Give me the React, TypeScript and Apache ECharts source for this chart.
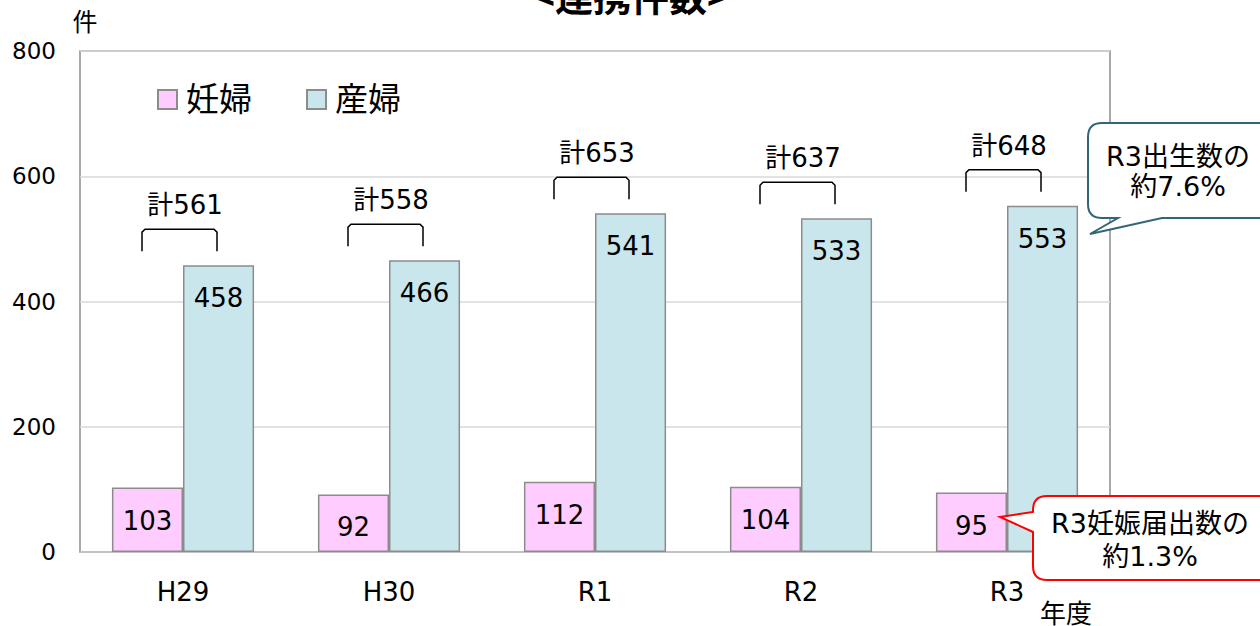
import React, { useEffect, useRef } from "react";
import * as echarts from "echarts";

const categories = ["H29", "H30", "R1", "R2", "R3"];
const ninpu = [103, 92, 112, 104, 95];
const sanpu = [458, 466, 541, 533, 553];
const totals = [561, 558, 653, 637, 648];
const yTicks = { min: 0, max: 800, interval: 200 };

const FONT = '"DejaVu Sans", "Noto Sans CJK JP", sans-serif';

const tealPath =
  "M 1102 123 L 1275 123 L 1275 218 L 1162 218 L 1090 234 L 1118 218 L 1102 218 Q 1088 218 1088 204 L 1088 137 Q 1088 123 1102 123 Z";
const redPath =
  "M 1047 496 L 1275 496 L 1275 580 L 1047 580 Q 1033 580 1033 566 L 1033 532 L 1000 517 L 1033 512 L 1033 510 Q 1033 496 1047 496 Z";

echarts.graphic.registerShape("calloutTeal", echarts.graphic.extendPath(tealPath, {}));
echarts.graphic.registerShape("calloutRed", echarts.graphic.extendPath(redPath, {}));

export default function App() {
  const ref = useRef<HTMLDivElement>(null);
  useEffect(() => {
    if (!ref.current) return;
    const chart = echarts.init(ref.current, undefined, { renderer: "svg" });
    chart.setOption({
      animation: false,
      textStyle: { fontFamily: FONT, color: "#000" },
      grid: {
        left: 80,
        right: 150,
        top: 51,
        bottom: 74,
        show: true,
        borderColor: "#8c8c8c",
        borderWidth: 1.5,
      },
      legend: {
        left: 152,
        top: 78,
        itemWidth: 19,
        itemHeight: 19,
        itemGap: 54,
        icon: "rect",
        textStyle: { fontSize: 33, fontFamily: FONT, color: "#000", padding: [0, 0, 0, 4] },
        data: ["妊婦", "産婦"],
      },
      xAxis: {
        type: "category",
        data: categories,
        axisTick: { show: false },
        axisLine: { lineStyle: { color: "#bfbfbf", width: 1.5 } },
        axisLabel: { fontSize: 26, color: "#000", margin: 27, fontFamily: FONT },
      },
      yAxis: {
        type: "value",
        min: yTicks.min,
        max: yTicks.max,
        interval: yTicks.interval,
        axisLine: { show: false },
        axisTick: { show: false },
        axisLabel: { fontSize: 23, color: "#000", margin: 24, fontFamily: FONT },
        splitLine: { lineStyle: { color: "#d9d9d9", width: 1.5 } },
      },
      series: [
        {
          name: "妊婦",
          type: "bar",
          data: ninpu,
          barGap: "0%",
          barCategoryGap: "31%",
          itemStyle: { color: "#ffccff", borderColor: "#8c8c8c", borderWidth: 1.5 },
          label: {
            show: true,
            position: "insideTop",
            distance: 20,
            fontSize: 26,
            color: "#000",
            fontFamily: FONT,
          },
        },
        {
          name: "産婦",
          type: "bar",
          data: sanpu,
          itemStyle: { color: "#c9e6ec", borderColor: "#8c8c8c", borderWidth: 1.5 },
          label: {
            show: true,
            position: "insideTop",
            distance: 20,
            fontSize: 26,
            color: "#000",
            fontFamily: FONT,
          },
        },
        {
          name: "total",
          type: "custom",
          data: categories.map((_, i) => [i, sanpu[i], totals[i]]),
          renderItem: (params: any, api: any) => {
            const p = api.coord([api.value(0), api.value(1)]);
            const cx = p[0];
            const top = p[1];
            const x1 = cx - 41;
            const x2 = cx + 34;
            const yb = top - 14;
            const yt = top - 36;
            return {
              type: "group",
              children: [
                {
                  type: "polyline",
                  shape: {
                    points: [
                      [x1, yb],
                      [x1, yt + 3],
                      [x1 + 3, yt],
                      [x2 - 3, yt],
                      [x2, yt + 3],
                      [x2, yb],
                    ],
                  },
                  style: { stroke: "#000", lineWidth: 1.5, fill: null },
                },
                {
                  type: "text",
                  style: {
                    text: "計" + api.value(2),
                    x: cx + 2,
                    y: top - 60,
                    align: "center",
                    verticalAlign: "middle",
                    fontSize: 26,
                    fontFamily: FONT,
                    fill: "#000",
                  },
                },
              ],
            };
          },
          z: 5,
        },
      ],
      graphic: [
        {
          type: "text",
          x: 631,
          y: -6,
          style: {
            text: "<連携件数>",
            x: 0,
            y: 0,
            align: "center",
            verticalAlign: "middle",
            fontSize: 38,
            fontWeight: "bold",
            fontFamily: '"Noto Sans CJK JP", sans-serif',
            fill: "#000",
          },
        },
        {
          type: "text",
          x: 85,
          y: 22,
          style: {
            text: "件",
            align: "center",
            verticalAlign: "middle",
            fontSize: 25,
            fontFamily: FONT,
            fill: "#000",
          },
        },
        {
          type: "text",
          x: 1066,
          y: 614,
          style: {
            text: "年度",
            align: "center",
            verticalAlign: "middle",
            fontSize: 26,
            fontFamily: FONT,
            fill: "#000",
          },
        },
        {
          type: "calloutTeal",
          x: 0,
          y: 0,
          z: 100,
          style: { fill: "#fff", stroke: "#31667a", lineWidth: 2 },
        },
        {
          type: "text",
          x: 1178,
          y: 171,
          z: 101,
          style: {
            text: "R3出生数の\n約7.6%",
            align: "center",
            verticalAlign: "middle",
            fontSize: 27,
            lineHeight: 30,
            fontFamily: FONT,
            fill: "#000",
          },
        },
        {
          type: "calloutRed",
          x: 0,
          y: 0,
          z: 100,
          style: { fill: "#fff", stroke: "#ff0000", lineWidth: 2 },
        },
        {
          type: "text",
          x: 1150,
          y: 540,
          z: 101,
          style: {
            text: "R3妊娠届出数の\n約1.3%",
            align: "center",
            verticalAlign: "middle",
            fontSize: 27,
            lineHeight: 33,
            fontFamily: FONT,
            fill: "#000",
          },
        },
      ],
    });
    return () => chart.dispose();
  }, []);
  return (
    <div
      ref={ref}
      style={{ position: "absolute", left: 0, top: 0, width: 1260, height: 626 }}
    />
  );
}
